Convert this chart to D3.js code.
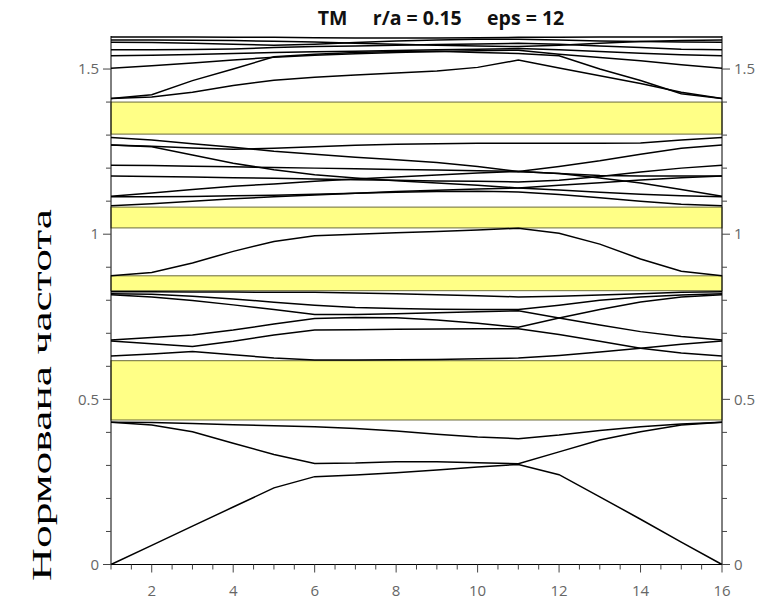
<!DOCTYPE html>
<html>
<head>
<meta charset="utf-8">
<script src="https://cdn.jsdelivr.net/npm/d3@7"></script>
<style>
  body { margin: 0; background: #fff; }
  svg { display: block; }
</style>
</head>
<body>
<div id="chart"></div>
<script>
// k-points along the path (index of the sample)
const kPoints = [1, 2, 3, 4, 5, 6, 7, 8, 9, 10, 11, 12, 13, 14, 15, 16];

// band frequencies (normalized), one array per line
const band1 = [0, 0.058, 0.116, 0.174, 0.232, 0.266, 0.271, 0.278, 0.286, 0.295, 0.303, 0.272, 0.205, 0.137, 0.068, 0];
const band2 = [0.431, 0.422, 0.402, 0.367, 0.333, 0.306, 0.307, 0.311, 0.311, 0.308, 0.305, 0.341, 0.377, 0.402, 0.422, 0.431];
const band3 = [0.431, 0.43, 0.427, 0.423, 0.42, 0.417, 0.412, 0.404, 0.394, 0.386, 0.381, 0.392, 0.406, 0.417, 0.425, 0.431];

const band4 = [0.631, 0.637, 0.645, 0.635, 0.625, 0.619, 0.619, 0.62, 0.621, 0.623, 0.625, 0.633, 0.643, 0.655, 0.667, 0.677];
const band5 = [0.677, 0.668, 0.66, 0.676, 0.695, 0.71, 0.711, 0.712, 0.713, 0.714, 0.714, 0.696, 0.676, 0.655, 0.64, 0.631];
const band6 = [0.68, 0.687, 0.695, 0.71, 0.728, 0.745, 0.748, 0.747, 0.74, 0.73, 0.718, 0.746, 0.772, 0.795, 0.81, 0.817];
const band7 = [0.817, 0.81, 0.799, 0.786, 0.772, 0.757, 0.757, 0.759, 0.762, 0.765, 0.768, 0.746, 0.725, 0.705, 0.69, 0.68];
const band8 = [0.82, 0.818, 0.812, 0.804, 0.794, 0.785, 0.778, 0.775, 0.773, 0.772, 0.772, 0.785, 0.8, 0.81, 0.816, 0.82];
const band9 = [0.826, 0.826, 0.825, 0.825, 0.824, 0.824, 0.822, 0.82, 0.817, 0.814, 0.81, 0.812, 0.816, 0.82, 0.824, 0.826];

const band10 = [0.874, 0.884, 0.913, 0.948, 0.978, 0.995, 1.0, 1.004, 1.008, 1.013, 1.018, 1.003, 0.97, 0.925, 0.888, 0.874];

const band11 = [1.086, 1.092, 1.1, 1.107, 1.113, 1.119, 1.124, 1.129, 1.133, 1.137, 1.14, 1.148, 1.156, 1.164, 1.171, 1.176];
const band12 = [1.113, 1.113, 1.114, 1.116, 1.118, 1.121, 1.124, 1.127, 1.129, 1.13, 1.128, 1.12, 1.11, 1.1, 1.091, 1.086];
const band13 = [1.115, 1.125, 1.135, 1.145, 1.152, 1.16, 1.167, 1.173, 1.179, 1.185, 1.19, 1.184, 1.17, 1.155, 1.135, 1.115];
const band14 = [1.176, 1.175, 1.173, 1.171, 1.169, 1.167, 1.165, 1.163, 1.161, 1.16, 1.158, 1.163, 1.175, 1.188, 1.2, 1.209];
const band15 = [1.209, 1.208, 1.206, 1.204, 1.202, 1.2, 1.198, 1.196, 1.194, 1.192, 1.19, 1.184, 1.178, 1.176, 1.176, 1.176];
const band16 = [1.27, 1.265, 1.24, 1.215, 1.195, 1.18, 1.17, 1.162, 1.155, 1.148, 1.14, 1.134, 1.127, 1.121, 1.116, 1.113];
const band17 = [1.293, 1.285, 1.274, 1.263, 1.251, 1.242, 1.233, 1.225, 1.217, 1.205, 1.19, 1.205, 1.222, 1.242, 1.26, 1.27];
const band18 = [1.27, 1.266, 1.261, 1.257, 1.26, 1.265, 1.269, 1.272, 1.274, 1.275, 1.275, 1.275, 1.275, 1.276, 1.285, 1.293];

const band19 = [1.411, 1.415, 1.43, 1.45, 1.466, 1.475, 1.482, 1.488, 1.494, 1.505, 1.527, 1.503, 1.48, 1.456, 1.43, 1.411];
const band20 = [1.411, 1.422, 1.465, 1.5, 1.537, 1.545, 1.55, 1.553, 1.554, 1.55, 1.547, 1.54, 1.5, 1.465, 1.425, 1.411];
const band21 = [1.502, 1.51, 1.518, 1.527, 1.536, 1.542, 1.546, 1.55, 1.553, 1.555, 1.557, 1.545, 1.535, 1.525, 1.513, 1.502];
const band22 = [1.54, 1.542, 1.544, 1.547, 1.55, 1.552, 1.554, 1.556, 1.558, 1.56, 1.562, 1.558, 1.553, 1.548, 1.543, 1.54];
const band23 = [1.558, 1.558, 1.559, 1.561, 1.565, 1.568, 1.57, 1.572, 1.574, 1.576, 1.578, 1.575, 1.57, 1.565, 1.56, 1.558];
const band24 = [1.581, 1.58, 1.578, 1.575, 1.572, 1.575, 1.58, 1.585, 1.588, 1.59, 1.59, 1.588, 1.585, 1.583, 1.582, 1.581];
const band25 = [1.588, 1.588, 1.587, 1.586, 1.584, 1.582, 1.578, 1.575, 1.572, 1.57, 1.568, 1.572, 1.578, 1.583, 1.586, 1.588];
const band26 = [1.597, 1.597, 1.597, 1.596, 1.596, 1.595, 1.594, 1.594, 1.594, 1.595, 1.596, 1.596, 1.597, 1.597, 1.597, 1.597];

const bands = [band1, band2, band3, band4, band5, band6, band7, band8, band9, band10,
  band11, band12, band13, band14, band15, band16, band17, band18,
  band19, band20, band21, band22, band23, band24, band25, band26];

// photonic band gaps [bottom, top]
const gaps = [[0.4375, 0.617], [0.829, 0.874], [1.019, 1.082], [1.303, 1.4]];

// ticks
const yTicks = [0, 0.5, 1, 1.5];
const yTickLabels = ["0", "0.5", "1", "1.5"];
const yMinorTicks = [0.1, 0.2, 0.3, 0.4, 0.6, 0.7, 0.8, 0.9, 1.1, 1.2, 1.3, 1.4];
const xTicks = [2, 4, 6, 8, 10, 12, 14, 16];
const xMinorTicks = [1, 1.5, 2.5, 3, 3.5, 4.5, 5, 5.5, 6.5, 7, 7.5, 8.5, 9, 9.5, 10.5, 11, 11.5, 12.5, 13, 13.5, 14.5, 15, 15.5];

const titleText = "TM     r/a = 0.15     eps = 12";
const yLabel = "Нормована частота";

const W = 768, H = 603;
const margin = { left: 111, right: 46, top: 36, bottom: 38.5 };

const svg = d3.select("#chart").append("svg")
  .attr("width", W)
  .attr("height", H);

svg.append("rect").attr("width", W).attr("height", H).attr("fill", "#fff");

const x = d3.scaleLinear().domain([1, 16]).range([margin.left, W - margin.right]);
const y = d3.scaleLinear().domain([0, 1.6]).range([H - margin.bottom, margin.top]);

// gaps
svg.append("g").selectAll("rect")
  .data(gaps)
  .join("rect")
  .attr("x", x(1))
  .attr("width", x(16) - x(1))
  .attr("y", d => y(d[1]))
  .attr("height", d => y(d[0]) - y(d[1]))
  .attr("fill", "#ffff86")
  .attr("stroke", "#6b6b3a")
  .attr("stroke-width", 1);

// bands
const line = d3.line()
  .x((d, i) => x(kPoints[i]))
  .y(d => y(d));

svg.append("g").selectAll("path")
  .data(bands)
  .join("path")
  .attr("d", line)
  .attr("fill", "none")
  .attr("stroke", "#000")
  .attr("stroke-width", 1.5);

// axes
const tickColor = "#444";
const labelColor = "#666";
const axisFont = "'Open Sans', 'DejaVu Sans', sans-serif";

const axes = svg.append("g");
// frame: left, right, bottom
axes.append("line").attr("x1", x(1)).attr("x2", x(1)).attr("y1", y(1.6)).attr("y2", y(0)).attr("stroke", "#000");
axes.append("line").attr("x1", x(16)).attr("x2", x(16)).attr("y1", y(1.6)).attr("y2", y(0)).attr("stroke", "#000");
axes.append("line").attr("x1", x(1)).attr("x2", x(16)).attr("y1", y(0)).attr("y2", y(0)).attr("stroke", "#000");

[[x(1), -1], [x(16), 1]].forEach(([x0, dir]) => {
  axes.append("g").selectAll("line.major")
    .data(yTicks).join("line")
    .attr("x1", x0).attr("x2", x0 + dir * 8)
    .attr("y1", d => y(d)).attr("y2", d => y(d))
    .attr("stroke", tickColor);
  axes.append("g").selectAll("line.minor")
    .data(yMinorTicks).join("line")
    .attr("x1", x0).attr("x2", x0 + dir * 5)
    .attr("y1", d => y(d)).attr("y2", d => y(d))
    .attr("stroke", tickColor);
  axes.append("g").selectAll("text")
    .data(yTicks).join("text")
    .attr("x", x0 + dir * 12)
    .attr("y", d => y(d))
    .attr("dy", "0.35em")
    .attr("text-anchor", dir < 0 ? "end" : "start")
    .attr("font-family", axisFont)
    .attr("font-size", 15)
    .attr("fill", labelColor)
    .text((d, i) => yTickLabels[i]);
});

axes.append("g").selectAll("line")
  .data(xTicks).join("line")
  .attr("x1", d => x(d)).attr("x2", d => x(d))
  .attr("y1", y(0)).attr("y2", y(0) + 8)
  .attr("stroke", tickColor);
axes.append("g").selectAll("line")
  .data(xMinorTicks).join("line")
  .attr("x1", d => x(d)).attr("x2", d => x(d))
  .attr("y1", y(0)).attr("y2", y(0) + 5)
  .attr("stroke", tickColor);
axes.append("g").selectAll("text")
  .data(xTicks).join("text")
  .attr("x", d => x(d))
  .attr("y", y(0) + 31)
  .attr("text-anchor", "middle")
  .attr("font-family", axisFont)
  .attr("font-size", 15)
  .attr("fill", labelColor)
  .text(d => d);

// title
svg.append("text")
  .attr("x", 441)
  .attr("y", 25)
  .attr("text-anchor", "middle")
  .attr("font-family", "'Open Sans', sans-serif")
  .attr("font-weight", "bold")
  .attr("font-size", 19.5)
  .attr("fill", "#111")
  .style("white-space", "pre")
  .text(titleText);

// y label (stretched along its length like the original)
svg.append("text")
  .attr("transform", "translate(51,395) rotate(-90)")
  .attr("text-anchor", "middle")
  .attr("font-family", "'Liberation Serif', 'Times New Roman', serif")
  .attr("font-size", 27)
  .attr("textLength", 372)
  .attr("lengthAdjust", "spacingAndGlyphs")
  .attr("fill", "#000")
  .text(yLabel);
</script>
</body>
</html>
